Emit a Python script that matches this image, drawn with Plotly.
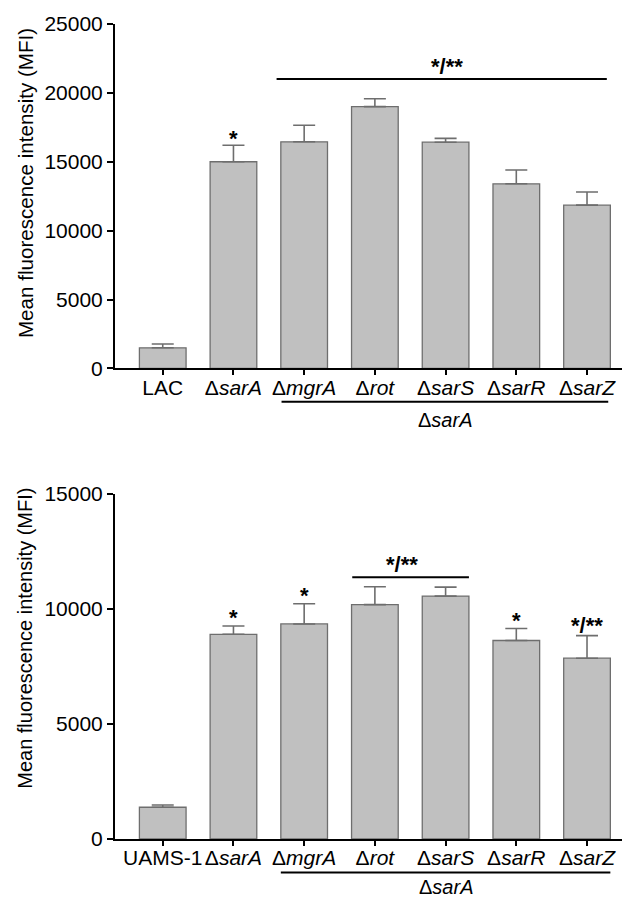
import plotly.graph_objects as go

# ---- data -------------------------------------------------------------
top_labels = ["LAC", "Δ<i>sarA</i>", "Δ<i>mgrA</i>", "Δ<i>rot</i>",
              "Δ<i>sarS</i>", "Δ<i>sarR</i>", "Δ<i>sarZ</i>"]
top_mfi = [1500, 15000, 16450, 19000, 16420, 13400, 11850]
top_err = [280, 1200, 1200, 570, 280, 1000, 960]

bot_labels = ["UAMS-1", "Δ<i>sarA</i>", "Δ<i>mgrA</i>", "Δ<i>rot</i>",
              "Δ<i>sarS</i>", "Δ<i>sarR</i>", "Δ<i>sarZ</i>"]
bot_mfi = [1380, 8900, 9350, 10190, 10560, 8630, 7860]
bot_err = [100, 360, 880, 780, 390, 520, 980]

top_ticks = [0, 5000, 10000, 15000, 20000, 25000]
bot_ticks = [0, 5000, 10000, 15000]

Y_TITLE = "Mean fluorescence intensity (MFI)"
FONT = "Liberation Sans, Arial, sans-serif"
BAR_FILL = "#c0c0c0"
BAR_EDGE = "#6e6e6e"

fig = go.Figure()

for labels, vals, errs, xa, ya in [
    (top_labels, top_mfi, top_err, "x", "y"),
    (bot_labels, bot_mfi, bot_err, "x2", "y2"),
]:
    fig.add_trace(go.Bar(
        x=list(range(len(vals))), y=vals, xaxis=xa, yaxis=ya,
        marker=dict(color=BAR_FILL, line=dict(color=BAR_EDGE, width=1.3)),
        error_y=dict(type="data", array=errs, arrayminus=[0] * len(errs),
                     symmetric=False, color="#6e6e6e", thickness=1.6, width=11),
        width=0.66, showlegend=False, hoverinfo="skip",
    ))

xcommon = dict(range=[-0.675, 6.5], showline=True, linewidth=2, linecolor="black",
               ticks="outside", ticklen=5, tickwidth=2, tickcolor="black",
               showgrid=False, zeroline=False, tickmode="array", automargin=False,
               tickvals=list(range(7)), fixedrange=True, ticklabelstandoff=-6,
               tickfont=dict(family=FONT, size=21, color="black"))
ycommon = dict(showline=True, linewidth=2, linecolor="black", ticks="outside",
               ticklen=6, tickwidth=2, tickcolor="black", showgrid=False,
               zeroline=False, tickformat="d", tickmode="array", automargin=False,
               tickfont=dict(family=FONT, size=21, color="black"))

fig.update_layout(
    width=623, height=898, margin=dict(l=0, r=0, t=0, b=0, autoexpand=False),
    plot_bgcolor="white", paper_bgcolor="white", bargap=0.34,
    xaxis=dict(domain=[0.1846, 0.999], ticktext=top_labels, anchor="y", **xcommon),
    yaxis=dict(domain=[0.5897, 0.9733], range=[0, 25000], tickvals=top_ticks,
               anchor="x", **ycommon),
    xaxis2=dict(domain=[0.1846, 0.999], ticktext=bot_labels, anchor="y2", **xcommon),
    yaxis2=dict(domain=[0.0657, 0.4499], range=[0, 15000], tickvals=bot_ticks,
                anchor="x2", **ycommon),
)

star_font = dict(family=FONT, size=22, color="black")
shapes = []
annotations = []

def star(text, x, y, xa, ya, yshift=-6):
    annotations.append(dict(text="<b>%s</b>" % text, x=x, y=y, xref=xa, yref=ya,
                            showarrow=False, yanchor="bottom", yshift=yshift,
                            font=star_font))

# rotated y-axis titles
for ya, yc, size in [("y domain", 0.538, 20.6), ("y2 domain", 0.583, 20)]:
    annotations.append(dict(text=Y_TITLE, textangle=-90, x=0.040, y=yc,
                            xref="paper", yref=ya, showarrow=False,
                            xanchor="center", yanchor="middle",
                            font=dict(family=FONT, size=size, color="black")))

# top panel: significance bar over the double mutants
shapes.append(dict(type="line", xref="x", yref="y", x0=1.61, x1=6.28,
                   y0=21000, y1=21000, line=dict(color="black", width=2)))
star("*/**", 4.02, 21000, "x", "y", yshift=-2)
star("*", 1, top_mfi[1] + top_err[1], "x", "y", yshift=-8)

# bottom panel annotations
shapes.append(dict(type="line", xref="x2", yref="y2", x0=2.68, x1=4.33,
                   y0=11380, y1=11380, line=dict(color="black", width=2)))
star("*/**", 3.39, 11380, "x2", "y2", yshift=-2)
for i in (1, 2, 5):
    star("*", i, bot_mfi[i] + bot_err[i], "x2", "y2")
star("*/**", 6, bot_mfi[6] + bot_err[6], "x2", "y2", yshift=-4)

# group bracket under the double mutants, labelled with the parent deletion
for xa, ya, x0, x1, ylab in [("x", "y domain", 1.68, 6.3, -0.15),
                             ("x2", "y2 domain", 1.67, 6.33, -0.14)]:
    shapes.append(dict(type="line", xref=xa, yref=ya, x0=x0, x1=x1,
                       y0=-0.097, y1=-0.097, line=dict(color="black", width=2)))
    annotations.append(dict(text="Δ<i>sarA</i>", x=(x0 + x1) / 2, y=ylab,
                            xref=xa, yref=ya, showarrow=False, yanchor="middle",
                            font=dict(family=FONT, size=20, color="black")))

fig.update_layout(shapes=shapes, annotations=annotations)

fig.write_html("out.html")
